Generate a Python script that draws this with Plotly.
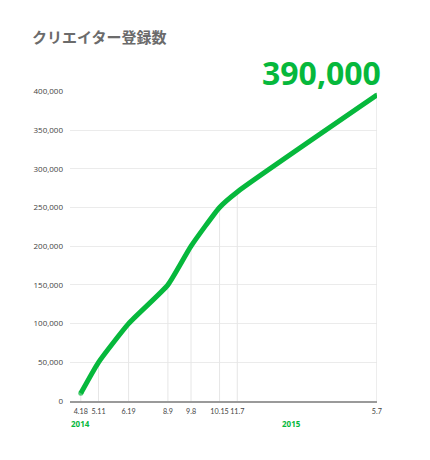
import plotly.graph_objects as go

dates = ["2014-04-18", "2014-05-11", "2014-06-19", "2014-08-09", "2014-09-08",
         "2014-10-15", "2014-11-07", "2015-05-07"]
tick_labels = ["4.18", "5.11", "6.19", "8.9", "9.8", "10.15", "11.7", "5.7"]
creators = [10000, 50000, 100000, 150000, 200000, 250000, 270000, 395000]
y_ticks = [0, 50000, 100000, 150000, 200000, 250000, 300000, 350000, 400000]
y_tick_labels = ["0", "50,000", "100,000", "150,000", "200,000", "250,000",
                 "300,000", "350,000", "400,000"]
years = ["2014", "2015"]
year_pos = ["2014-04-18", "2015-01-01"]
title = "クリエイター登録数"
headline = "390,000"

GREEN = "#06b83c"
num_font = "Open Sans"

# drop lines
dx, dy = [], []
for d, v in zip(dates, creators):
    dx += [d, d, None]
    dy += [0, v, None]

W, H = 422, 452
L, R, T, B = 62, 53, 83, 59
PW, PH = W - L - R, H - T - B

fig = go.Figure()
fig.add_trace(go.Scatter(x=dx, y=dy, mode="lines",
                         line=dict(color="#e6e6e6", width=1),
                         hoverinfo="skip", showlegend=False))
fig.add_trace(go.Scatter(
    x=dates, y=creators, mode="lines+markers",
    line=dict(color=GREEN, width=5, shape="spline", smoothing=0.5),
    marker=dict(color=GREEN, size=[5] + [0] * (len(dates) - 2) + [5], line=dict(width=0)),
    showlegend=False))

fig.update_layout(
    width=W, height=H,
    margin=dict(l=L, r=R, t=T, b=B),
    paper_bgcolor="white", plot_bgcolor="white",
    xaxis=dict(type="date", range=["2014-04-04", "2015-05-07 06:00"],
               tickmode="array", tickvals=dates, ticktext=tick_labels,
               tickangle=0,
               showgrid=False, zeroline=False,
               showline=True, linecolor="#9a9a9a", linewidth=1.5,
               ticks="", ticklabelstandoff=3,
               tickfont=dict(family="Lato", size=7.2, color="#444")),
    yaxis=dict(range=[0, 400400], tickmode="array", tickvals=y_ticks,
               ticktext=y_tick_labels, showgrid=True, gridcolor="#ebebeb",
               gridwidth=1, zeroline=False, ticks="", ticklabelstandoff=6,
               tickfont=dict(family=num_font, size=8, color="#444")),
    font=dict(family=num_font),
)

fig.add_annotation(text="<b>" + title + "</b>", xref="paper", yref="paper",
                   x=-(L - 22) / PW, y=1 + (T - 29) / PH, xanchor="left", yanchor="middle",
                   showarrow=False,
                   font=dict(family="Noto Sans CJK JP", size=15, color="#6b6b6b"))
fig.add_annotation(text="<b>" + headline + "</b>", xref="paper", yref="paper",
                   x=1 + 6 / PW, y=1 + (T - 64) / PH, xanchor="right", yanchor="middle",
                   showarrow=False,
                   font=dict(family=num_font, size=32, color=GREEN))
for yr, pos, anc in zip(years, year_pos, ["center", "left"]):
    fig.add_annotation(text="<b>" + yr + "</b>", x=pos, xref="x", yref="paper",
                       y=-(415 - 393) / PH, xanchor=anc, yanchor="middle",
                       showarrow=False,
                       font=dict(family=num_font, size=8, color=GREEN))

fig.write_html("out.html")
